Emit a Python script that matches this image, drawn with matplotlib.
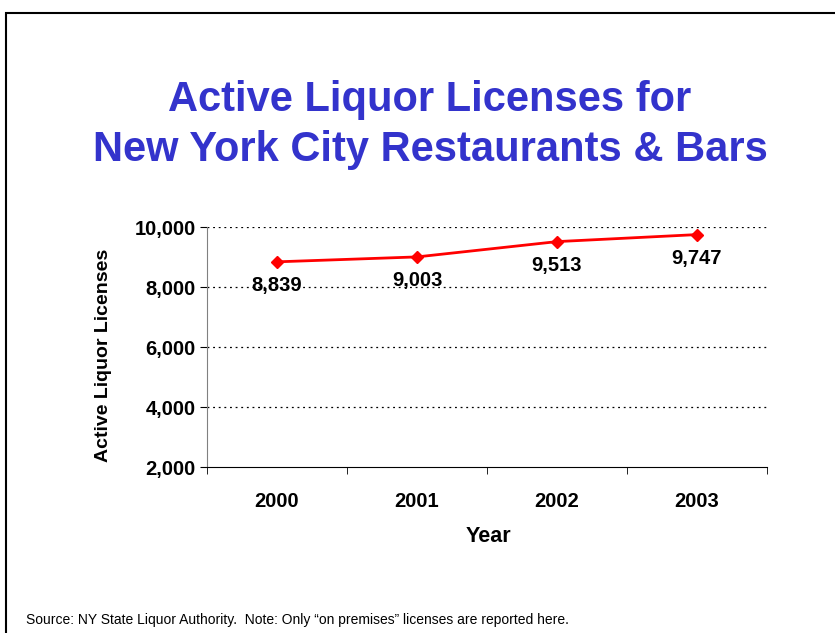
import matplotlib
matplotlib.use("Agg")
import matplotlib.pyplot as plt
from matplotlib.patches import Rectangle
from matplotlib.ticker import FuncFormatter, FixedLocator

plt.rcParams['font.family'] = ['Liberation Sans', 'DejaVu Sans']

years = ["2000", "2001", "2002", "2003"]
licenses = [8839, 9003, 9513, 9747]
y_ticks = [2000, 4000, 6000, 8000, 10000]

W, H = 835, 633
fig = plt.figure(figsize=(W / 100, H / 100), dpi=100)

# slide border
fig.add_artist(Rectangle((6 / W, -0.1), 1.2, 1 - 13 / H + 0.1, transform=fig.transFigure,
                         fill=False, edgecolor='black', linewidth=1.5))

fig.text(430 / W, 1 - 100 / H, "Active Liquor Licenses for", ha='center', va='center',
         fontsize=30, fontweight='bold', color='#3333CC')
fig.text(430 / W, 1 - 150 / H, "New York City Restaurants & Bars", ha='center', va='center',
         fontsize=30, fontweight='bold', color='#3333CC')

ax = fig.add_axes([207 / W, 1 - 467 / H, 560 / W, 240 / H])
x = list(range(len(years)))
ax.plot(x, licenses, color='red', linewidth=2, marker='D', markersize=6,
        markerfacecolor='red', markeredgecolor='red')
for xi, v in zip(x, licenses):
    ax.annotate(f"{v:,}", (xi, v), xytext=(0, -24), textcoords='offset pixels',
                ha='center', va='center', fontsize=14.5, fontweight='bold')

ax.set_xlim(-0.5, len(years) - 0.5)
ax.set_ylim(2000, 10000)
ax.set_yticks(y_ticks)
ax.yaxis.set_major_formatter(FuncFormatter(lambda v, p: f"{int(v):,}"))
ax.set_xticks(x)
ax.set_xticklabels(years)
ax.xaxis.set_minor_locator(FixedLocator([i - 0.5 for i in range(len(years) + 1)]))
ax.tick_params(axis='x', which='major', length=0, pad=18, labelsize=14.5)
ax.tick_params(axis='x', which='minor', length=5, direction='out', color='black')
ax.tick_params(axis='y', length=5, direction='out', labelsize=14.5, pad=3)
for lab in ax.get_xticklabels() + ax.get_yticklabels():
    lab.set_fontweight('bold')

for yv in y_ticks[1:]:
    ax.axhline(yv, color='black', linestyle=(0, (1.5, 3)), linewidth=0.9, zorder=0)

ax.spines['top'].set_visible(False)
ax.spines['right'].set_visible(False)
ax.spines['left'].set_color('#808080')
ax.spines['bottom'].set_color('black')

fig.text(103 / W, 1 - 355 / H, "Active Liquor Licenses", rotation=90, ha='center', va='center',
         fontsize=14, fontweight='bold')
fig.text(488 / W, 1 - 537 / H, "Year", ha='center', va='center', fontsize=15.5, fontweight='bold')
fig.text(26 / W, 1 - 620 / H, "Source: NY State Liquor Authority.  Note: Only \u201con premises\u201d licenses are reported here.",
         ha='left', va='center', fontsize=10)

fig.savefig("out.png", dpi=100)
